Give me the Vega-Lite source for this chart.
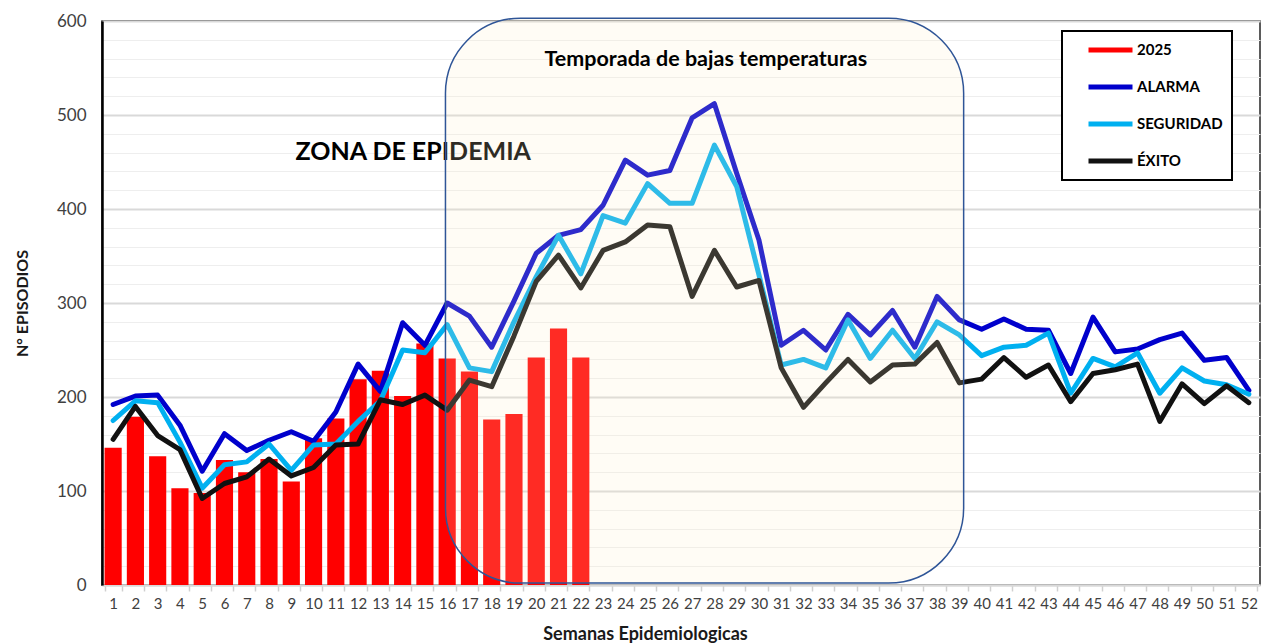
{
  "$schema": "https://vega.github.io/schema/vega-lite/v6.json",
  "width": 1158,
  "height": 564,
  "autosize": {"type": "none"},
  "padding": {"left": 102, "top": 21, "right": 1, "bottom": 59},
  "background": "white",
  "config": {
    "view": {"stroke": "#262626", "strokeWidth": 1.5},
    "font": "Lato",
    "legend": {"strokeWidth": 2}
  },
  "datasets": {
    "bars": [
      {"week": 1, "series": "2025", "value": 146}, {"week": 2, "series": "2025", "value": 179},
      {"week": 3, "series": "2025", "value": 137}, {"week": 4, "series": "2025", "value": 103},
      {"week": 5, "series": "2025", "value": 98}, {"week": 6, "series": "2025", "value": 133},
      {"week": 7, "series": "2025", "value": 120}, {"week": 8, "series": "2025", "value": 134},
      {"week": 9, "series": "2025", "value": 110}, {"week": 10, "series": "2025", "value": 156},
      {"week": 11, "series": "2025", "value": 177}, {"week": 12, "series": "2025", "value": 219},
      {"week": 13, "series": "2025", "value": 228}, {"week": 14, "series": "2025", "value": 201},
      {"week": 15, "series": "2025", "value": 257}, {"week": 16, "series": "2025", "value": 241},
      {"week": 17, "series": "2025", "value": 227}, {"week": 18, "series": "2025", "value": 176},
      {"week": 19, "series": "2025", "value": 182}, {"week": 20, "series": "2025", "value": 242},
      {"week": 21, "series": "2025", "value": 273}, {"week": 22, "series": "2025", "value": 242}
    ],
    "lines": [
      {"week": 1, "series": "ALARMA", "value": 192}, {"week": 2, "series": "ALARMA", "value": 201}, {"week": 3, "series": "ALARMA", "value": 202}, {"week": 4, "series": "ALARMA", "value": 170},
      {"week": 5, "series": "ALARMA", "value": 121}, {"week": 6, "series": "ALARMA", "value": 161}, {"week": 7, "series": "ALARMA", "value": 143}, {"week": 8, "series": "ALARMA", "value": 154},
      {"week": 9, "series": "ALARMA", "value": 163}, {"week": 10, "series": "ALARMA", "value": 153}, {"week": 11, "series": "ALARMA", "value": 184}, {"week": 12, "series": "ALARMA", "value": 235},
      {"week": 13, "series": "ALARMA", "value": 206}, {"week": 14, "series": "ALARMA", "value": 279}, {"week": 15, "series": "ALARMA", "value": 255}, {"week": 16, "series": "ALARMA", "value": 300},
      {"week": 17, "series": "ALARMA", "value": 286}, {"week": 18, "series": "ALARMA", "value": 253}, {"week": 19, "series": "ALARMA", "value": 302}, {"week": 20, "series": "ALARMA", "value": 353},
      {"week": 21, "series": "ALARMA", "value": 372}, {"week": 22, "series": "ALARMA", "value": 378}, {"week": 23, "series": "ALARMA", "value": 404}, {"week": 24, "series": "ALARMA", "value": 452},
      {"week": 25, "series": "ALARMA", "value": 436}, {"week": 26, "series": "ALARMA", "value": 441}, {"week": 27, "series": "ALARMA", "value": 497}, {"week": 28, "series": "ALARMA", "value": 512},
      {"week": 29, "series": "ALARMA", "value": 438}, {"week": 30, "series": "ALARMA", "value": 367}, {"week": 31, "series": "ALARMA", "value": 255}, {"week": 32, "series": "ALARMA", "value": 271},
      {"week": 33, "series": "ALARMA", "value": 250}, {"week": 34, "series": "ALARMA", "value": 288}, {"week": 35, "series": "ALARMA", "value": 266}, {"week": 36, "series": "ALARMA", "value": 292},
      {"week": 37, "series": "ALARMA", "value": 253}, {"week": 38, "series": "ALARMA", "value": 307}, {"week": 39, "series": "ALARMA", "value": 282}, {"week": 40, "series": "ALARMA", "value": 272},
      {"week": 41, "series": "ALARMA", "value": 283}, {"week": 42, "series": "ALARMA", "value": 272}, {"week": 43, "series": "ALARMA", "value": 271}, {"week": 44, "series": "ALARMA", "value": 225},
      {"week": 45, "series": "ALARMA", "value": 285}, {"week": 46, "series": "ALARMA", "value": 248}, {"week": 47, "series": "ALARMA", "value": 251}, {"week": 48, "series": "ALARMA", "value": 261},
      {"week": 49, "series": "ALARMA", "value": 268}, {"week": 50, "series": "ALARMA", "value": 239}, {"week": 51, "series": "ALARMA", "value": 242}, {"week": 52, "series": "ALARMA", "value": 207},

      {"week": 1, "series": "SEGURIDAD", "value": 175}, {"week": 2, "series": "SEGURIDAD", "value": 196}, {"week": 3, "series": "SEGURIDAD", "value": 194}, {"week": 4, "series": "SEGURIDAD", "value": 152},
      {"week": 5, "series": "SEGURIDAD", "value": 103}, {"week": 6, "series": "SEGURIDAD", "value": 128}, {"week": 7, "series": "SEGURIDAD", "value": 131}, {"week": 8, "series": "SEGURIDAD", "value": 150},
      {"week": 9, "series": "SEGURIDAD", "value": 122}, {"week": 10, "series": "SEGURIDAD", "value": 149}, {"week": 11, "series": "SEGURIDAD", "value": 150}, {"week": 12, "series": "SEGURIDAD", "value": 174},
      {"week": 13, "series": "SEGURIDAD", "value": 196}, {"week": 14, "series": "SEGURIDAD", "value": 250}, {"week": 15, "series": "SEGURIDAD", "value": 247}, {"week": 16, "series": "SEGURIDAD", "value": 277},
      {"week": 17, "series": "SEGURIDAD", "value": 231}, {"week": 18, "series": "SEGURIDAD", "value": 227}, {"week": 19, "series": "SEGURIDAD", "value": 280}, {"week": 20, "series": "SEGURIDAD", "value": 328},
      {"week": 21, "series": "SEGURIDAD", "value": 372}, {"week": 22, "series": "SEGURIDAD", "value": 331}, {"week": 23, "series": "SEGURIDAD", "value": 393}, {"week": 24, "series": "SEGURIDAD", "value": 385},
      {"week": 25, "series": "SEGURIDAD", "value": 427}, {"week": 26, "series": "SEGURIDAD", "value": 406}, {"week": 27, "series": "SEGURIDAD", "value": 406}, {"week": 28, "series": "SEGURIDAD", "value": 468},
      {"week": 29, "series": "SEGURIDAD", "value": 424}, {"week": 30, "series": "SEGURIDAD", "value": 330}, {"week": 31, "series": "SEGURIDAD", "value": 234}, {"week": 32, "series": "SEGURIDAD", "value": 240},
      {"week": 33, "series": "SEGURIDAD", "value": 231}, {"week": 34, "series": "SEGURIDAD", "value": 282}, {"week": 35, "series": "SEGURIDAD", "value": 241}, {"week": 36, "series": "SEGURIDAD", "value": 271},
      {"week": 37, "series": "SEGURIDAD", "value": 241}, {"week": 38, "series": "SEGURIDAD", "value": 280}, {"week": 39, "series": "SEGURIDAD", "value": 266}, {"week": 40, "series": "SEGURIDAD", "value": 244},
      {"week": 41, "series": "SEGURIDAD", "value": 253}, {"week": 42, "series": "SEGURIDAD", "value": 255}, {"week": 43, "series": "SEGURIDAD", "value": 268}, {"week": 44, "series": "SEGURIDAD", "value": 204},
      {"week": 45, "series": "SEGURIDAD", "value": 241}, {"week": 46, "series": "SEGURIDAD", "value": 232}, {"week": 47, "series": "SEGURIDAD", "value": 247}, {"week": 48, "series": "SEGURIDAD", "value": 204},
      {"week": 49, "series": "SEGURIDAD", "value": 231}, {"week": 50, "series": "SEGURIDAD", "value": 217}, {"week": 51, "series": "SEGURIDAD", "value": 213}, {"week": 52, "series": "SEGURIDAD", "value": 203},

      {"week": 1, "series": "ÉXITO", "value": 155}, {"week": 2, "series": "ÉXITO", "value": 190}, {"week": 3, "series": "ÉXITO", "value": 159}, {"week": 4, "series": "ÉXITO", "value": 144},
      {"week": 5, "series": "ÉXITO", "value": 92}, {"week": 6, "series": "ÉXITO", "value": 108}, {"week": 7, "series": "ÉXITO", "value": 115}, {"week": 8, "series": "ÉXITO", "value": 134},
      {"week": 9, "series": "ÉXITO", "value": 116}, {"week": 10, "series": "ÉXITO", "value": 125}, {"week": 11, "series": "ÉXITO", "value": 149}, {"week": 12, "series": "ÉXITO", "value": 150},
      {"week": 13, "series": "ÉXITO", "value": 197}, {"week": 14, "series": "ÉXITO", "value": 192}, {"week": 15, "series": "ÉXITO", "value": 202}, {"week": 16, "series": "ÉXITO", "value": 186},
      {"week": 17, "series": "ÉXITO", "value": 218}, {"week": 18, "series": "ÉXITO", "value": 211}, {"week": 19, "series": "ÉXITO", "value": 265}, {"week": 20, "series": "ÉXITO", "value": 323},
      {"week": 21, "series": "ÉXITO", "value": 351}, {"week": 22, "series": "ÉXITO", "value": 316}, {"week": 23, "series": "ÉXITO", "value": 356}, {"week": 24, "series": "ÉXITO", "value": 365},
      {"week": 25, "series": "ÉXITO", "value": 383}, {"week": 26, "series": "ÉXITO", "value": 381}, {"week": 27, "series": "ÉXITO", "value": 307}, {"week": 28, "series": "ÉXITO", "value": 356},
      {"week": 29, "series": "ÉXITO", "value": 317}, {"week": 30, "series": "ÉXITO", "value": 324}, {"week": 31, "series": "ÉXITO", "value": 231}, {"week": 32, "series": "ÉXITO", "value": 189},
      {"week": 33, "series": "ÉXITO", "value": 215}, {"week": 34, "series": "ÉXITO", "value": 240}, {"week": 35, "series": "ÉXITO", "value": 216}, {"week": 36, "series": "ÉXITO", "value": 234},
      {"week": 37, "series": "ÉXITO", "value": 235}, {"week": 38, "series": "ÉXITO", "value": 258}, {"week": 39, "series": "ÉXITO", "value": 215}, {"week": 40, "series": "ÉXITO", "value": 219},
      {"week": 41, "series": "ÉXITO", "value": 242}, {"week": 42, "series": "ÉXITO", "value": 221}, {"week": 43, "series": "ÉXITO", "value": 234}, {"week": 44, "series": "ÉXITO", "value": 195},
      {"week": 45, "series": "ÉXITO", "value": 225}, {"week": 46, "series": "ÉXITO", "value": 229}, {"week": 47, "series": "ÉXITO", "value": 235}, {"week": 48, "series": "ÉXITO", "value": 174},
      {"week": 49, "series": "ÉXITO", "value": 214}, {"week": 50, "series": "ÉXITO", "value": 193}, {"week": 51, "series": "ÉXITO", "value": 212}, {"week": 52, "series": "ÉXITO", "value": 194}
    ],
    "box": [{"start": 16, "end": 39, "lo": 2, "hi": 603}],
    "zona": [{"week": 9, "value": 461, "label": "ZONA DE EPIDEMIA"}],
    "temporada": [{"week": 28, "value": 558, "label": "Temporada de bajas temperaturas"}]
  },
  "layer": [
    {
      "data": {"name": "bars"},
      "mark": {"type": "bar"},
      "encoding": {
        "x": {
          "field": "week", "type": "ordinal", "sort": "ascending",
          "scale": {"paddingInner": 0.23, "paddingOuter": 0.115},
          "axis": {
            "title": "Semanas Epidemiologicas",
            "titleFont": "Lato", "titleFontSize": 18, "titleFontWeight": "bold", "titleColor": "#1a1a1a",
            "titleX": 543, "titleY": 49, "titleBaseline": "middle",
            "labelAngle": 0, "labelFont": "Lato", "labelFontSize": 15, "labelColor": "#404040",
            "labelPadding": 5, "labelOverlap": false, "labelBound": false,
            "tickBand": "extent", "tickColor": "#d0d0d0", "tickSize": 6, "tickWidth": 1.5,
            "domainColor": "#d9d9d9", "domainWidth": 2, "grid": false
          }
        },
        "y": {
          "field": "value", "type": "quantitative",
          "scale": {"domain": [0, 600], "nice": false},
          "axis": {
            "title": "N° EPISODIOS",
            "titleFont": "Lato", "titleFontSize": 16, "titleFontWeight": "bold", "titleColor": "#1a1a1a",
            "titleX": -80, "titleY": 282, "titleAngle": -90, "titleAlign": "center", "titleBaseline": "middle",
            "values": [0,20,40,60,80,100,120,140,160,180,200,220,240,260,280,300,320,340,360,380,400,420,440,460,480,500,520,540,560,580,600],
            "tickCount": 100,
            "labelExpr": "datum.value % 100 === 0 ? datum.label : ''",
            "labelOverlap": false,
            "labelFont": "Lato", "labelFontSize": 17, "labelColor": "#404040", "labelPadding": 16,
            "ticks": false, "domainColor": "#000000", "domainWidth": 2.5,
            "grid": true,
            "gridColor": {"condition": {"test": "datum.value % 100 === 0", "value": "#d9d9d9"}, "value": "#eeeeee"},
            "gridWidth": {"condition": {"test": "datum.value % 100 === 0", "value": 2}, "value": 1.2}
          }
        },
        "color": {
          "field": "series", "type": "nominal",
          "scale": {"domain": ["2025", "ALARMA", "SEGURIDAD", "ÉXITO"], "range": ["#FF0000", "#0000CC", "#00B0F0", "#111111"]},
          "legend": {
            "title": null, "orient": "none", "legendX": 960, "legendY": 10,
            "strokeColor": "#000000", "padding": 9, "fillColor": "white",
            "symbolType": "stroke", "symbolStrokeWidth": 5, "symbolSize": 1936, "symbolOffset": 15,
            "clipHeight": 20,
            "labelFont": "Lato", "labelFontSize": 15, "labelFontWeight": "bold", "labelColor": "#000000",
            "labelOffset": 2, "rowPadding": 17
          }
        }
      }
    },
    {
      "data": {"name": "lines"},
      "mark": {"type": "line", "strokeWidth": 5, "strokeJoin": "round", "strokeCap": "round"},
      "encoding": {
        "x": {"field": "week", "type": "ordinal", "sort": "ascending"},
        "y": {"field": "value", "type": "quantitative"},
        "color": {"field": "series", "type": "nominal"}
      }
    },
    {
      "data": {"name": "zona"},
      "mark": {"type": "text", "font": "Lato", "fontSize": 25, "fontWeight": "bold", "align": "left", "baseline": "middle", "color": "#000000"},
      "encoding": {
        "x": {"field": "week", "type": "ordinal", "bandPosition": 0.75},
        "y": {"field": "value", "type": "quantitative"},
        "text": {"field": "label"}
      }
    },
    {
      "data": {"name": "box"},
      "mark": {"type": "rect", "fill": "#FFEEC6", "fillOpacity": 0.18, "stroke": "#2F5597", "strokeWidth": 1.5, "cornerRadius": 75},
      "encoding": {
        "x": {"field": "start", "type": "ordinal", "bandPosition": 0.4},
        "x2": {"field": "end", "bandPosition": 0.75},
        "y": {"field": "lo", "type": "quantitative"},
        "y2": {"field": "hi"}
      }
    },
    {
      "data": {"name": "temporada"},
      "mark": {"type": "text", "font": "Lato", "fontSize": 21.5, "fontWeight": "bold", "align": "center", "baseline": "middle", "color": "#000000"},
      "encoding": {
        "x": {"field": "week", "type": "ordinal", "bandPosition": 0},
        "y": {"field": "value", "type": "quantitative"},
        "text": {"field": "label"}
      }
    }
  ]
}
